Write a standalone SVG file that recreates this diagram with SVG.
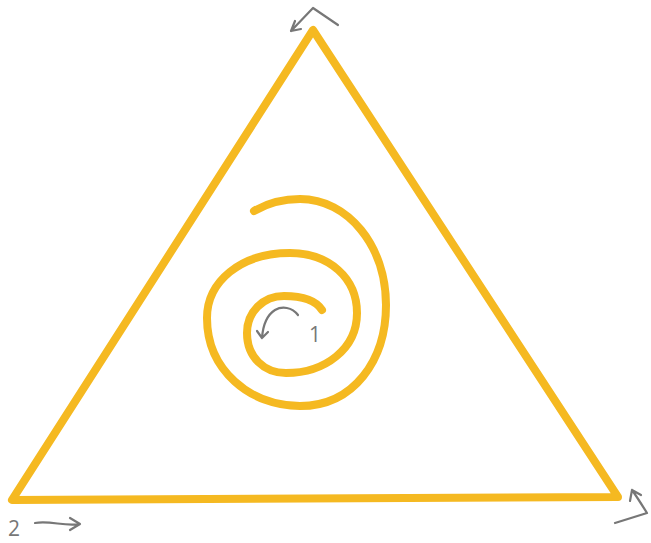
<svg xmlns="http://www.w3.org/2000/svg" width="651" height="543" viewBox="0 0 651 543">
<style>
.y{fill:none;stroke:#F5B921;stroke-width:8;stroke-linecap:round;stroke-linejoin:round}
.g{fill:none;stroke:#777;stroke-width:2.2;stroke-linecap:round;stroke-linejoin:round}
.t{font-family:"Open Sans","Liberation Sans",sans-serif;font-weight:400;font-size:21px;fill:#777}
</style>
<rect width="651" height="543" fill="#fff"/>
<g id="triangle">
<path class="y" d="M313,30 L12,500 L618,497 Z"/>
</g>
<g id="spiral">
<path class="y" d="M322,310 C315,299 300,296 284,296 C263,296 247,312 247,333 C247,357 264,373 286,373 C325,373 357,349 357,313 C357,278 329,253 290,253 C240,253 207,282 207,318 C207,370 250,406 300,406 C354,406 386,360 386,305 C386,246 348,199 300,199 C281,199 266,204 254,211"/>
</g>
<g id="connectors">
<path class="g" d="M338,25 L313,8 L291,31 M291,31 L295,21 M291,31 L301,29"/>
<path class="g" d="M615,523 L647,513 C642,505 637,497 632,490 M632,490 L630,501 M632,490 L641,495"/>
<path class="g" d="M35,523 C50,520 65,527 80,524 M80,524 L70,518 M80,524 L70,530"/>
<path class="g" d="M298,315 C292,307 282,306 275,310 C267,315 263,325 262,338 M262,338 L257,331 M262,338 L268,332"/>
</g>
<g id="labels">
<text class="t" x="309" y="342">1</text>
<text class="t" x="8" y="536">2</text>
</g>
</svg>
